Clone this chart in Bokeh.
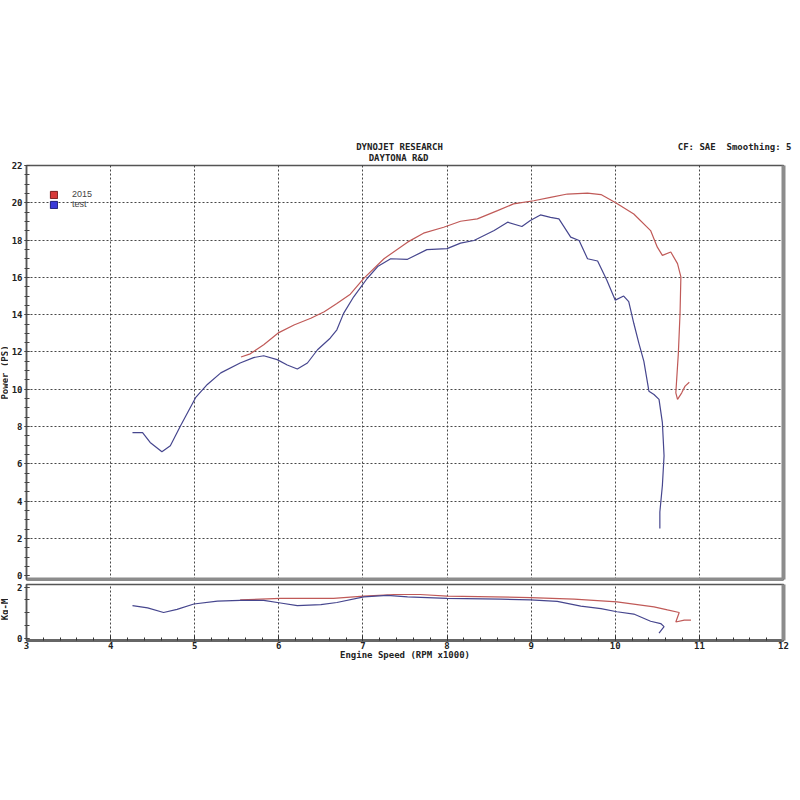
import math
from bokeh.plotting import figure
from bokeh.models import (Range1d, SingleIntervalTicker, FixedTicker, LinearAxis,
                          Legend, LegendItem)
from bokeh.layouts import column, row
from bokeh.core.properties import value
from bokeh.embed import file_html
from bokeh.resources import INLINE

# ---------------- data ----------------
series_names = ["2015", "test"]

rpm_2015 = [5.55, 5.66, 5.82, 6.00, 6.18, 6.38, 6.54, 6.69, 6.85, 7.01, 7.25, 7.53,
            7.72, 7.96, 8.16, 8.36, 8.60, 8.79, 9.03, 9.23, 9.43, 9.67, 9.83, 10.00,
            10.22, 10.42, 10.50, 10.56, 10.66, 10.74, 10.78, 10.77, 10.75, 10.72,
            10.74, 10.79, 10.83, 10.88]
ps_2015 = [11.73, 11.90, 12.39, 13.04, 13.45, 13.81, 14.16, 14.60, 15.10, 15.95, 17.00, 17.89,
           18.37, 18.69, 19.01, 19.14, 19.58, 19.94, 20.11, 20.29, 20.47, 20.52, 20.44, 20.02,
           19.40, 18.51, 17.62, 17.18, 17.36, 16.74, 16.03, 14.08, 11.94, 9.81,
           9.46, 9.81, 10.17, 10.38]

rpm_test = [4.26, 4.38, 4.47, 4.61, 4.71, 4.83, 5.01, 5.15, 5.31, 5.54, 5.70, 5.82,
            5.98, 6.10, 6.22, 6.34, 6.46, 6.61, 6.69, 6.77, 6.89, 7.05, 7.18, 7.33,
            7.53, 7.76, 8.00, 8.16, 8.32, 8.56, 8.72, 8.89, 8.99, 9.11, 9.23, 9.33,
            9.47, 9.57, 9.67, 9.79, 9.90, 10.00, 10.10, 10.16, 10.22, 10.28, 10.34,
            10.40, 10.46, 10.52, 10.56, 10.58, 10.56, 10.53, 10.53]
ps_test = [7.68, 7.68, 7.15, 6.65, 6.97, 8.03, 9.55, 10.26, 10.88, 11.41, 11.70, 11.80,
           11.59, 11.30, 11.09, 11.41, 12.12, 12.74, 13.19, 14.07, 14.96, 15.94, 16.60, 17.00,
           16.97, 17.49, 17.54, 17.84, 17.98, 18.51, 18.96, 18.73, 19.05, 19.35, 19.22, 19.14,
           18.16, 17.98, 17.00, 16.88, 15.85, 14.78, 15.00, 14.70, 13.54, 12.48, 11.50,
           9.90, 9.72, 9.46, 8.21, 6.44, 4.84, 3.42, 2.53]

tq_rpm_2015 = [5.54, 6.02, 6.65, 7.01, 7.37, 7.68, 8.00, 8.99, 9.51, 10.02, 10.46,
               10.62, 10.76, 10.72, 10.82, 10.90]
tq_2015 = [1.50, 1.56, 1.56, 1.65, 1.71, 1.71, 1.65, 1.59, 1.53, 1.42, 1.23,
           1.11, 1.01, 0.64, 0.71, 0.71]

tq_rpm_test = [4.26, 4.44, 4.63, 4.79, 4.99, 5.27, 5.54, 5.82, 6.02, 6.22, 6.50, 6.69,
               7.01, 7.29, 7.53, 8.00, 8.64, 8.99, 9.31, 9.59, 9.83, 10.02, 10.22,
               10.42, 10.54, 10.58, 10.52]
tq_test = [1.28, 1.19, 1.01, 1.13, 1.34, 1.45, 1.48, 1.48, 1.38, 1.28, 1.32, 1.40,
           1.62, 1.68, 1.62, 1.56, 1.53, 1.50, 1.44, 1.26, 1.16, 1.04, 0.95,
           0.67, 0.58, 0.46, 0.21]

title_lines = ["DYNOJET RESEARCH", "DAYTONA R&D"]
info_text = "CF: SAE\u00a0\u00a0Smoothing: 5"
power_label = "Power (PS)"
torque_label = "Kg-M"
x_label = "Engine Speed (RPM x1000)"

# ---------------- styling / layout constants ----------------
RED = "#c05a58"
BLUE = "#46468e"
MONO = "DejaVu Sans Mono"
TXT = "#222222"
GRID = "#333333"
PAGE_W = 800
STRIP_W = 8           # strip that holds the rotated axis titles
HEAD_H = 161          # header strip (titles)
MAIN_H = 420
TQ_H = 84
LEFT = 18
RIGHT = 17

x_range = Range1d(3, 12)


def bare(fig):
    fig.grid.visible = False
    fig.background_fill_color = "white"
    fig.border_fill_color = "white"
    fig.outline_line_color = None


def style_y_axis(ax):
    ax.major_label_text_font = MONO
    ax.major_label_text_font_size = "9px"
    ax.major_label_text_font_style = "bold"
    ax.major_label_text_color = TXT
    ax.major_label_standoff = 2
    ax.major_tick_in = 3
    ax.major_tick_out = 2
    ax.minor_tick_in = 3
    ax.minor_tick_out = 2
    ax.major_tick_line_color = "#444444"
    ax.minor_tick_line_color = "#444444"
    ax.axis_line_color = "#555555"
    ax.axis_line_width = 1.5


def shadow_axis():
    return LinearAxis(ticker=FixedTicker(ticks=[]), axis_line_width=4,
                      axis_line_color="#8c8c8c", major_tick_in=0, major_tick_out=0,
                      minor_tick_in=0, minor_tick_out=0, major_label_standoff=0)


# ---------------- header (titles) ----------------
hdr = figure(width=PAGE_W, height=HEAD_H, x_range=Range1d(0, PAGE_W), y_range=Range1d(0, HEAD_H),
             x_axis_location=None, y_axis_location=None, min_border=0,
             output_backend="svg", toolbar_location=None)
bare(hdr)
hdr.text(x=[399, 398], y=[15, 4], text=title_lines, text_align="center",
         text_baseline="middle", text_font=value(MONO), text_font_size="9px",
         text_font_style="bold", text_color=TXT)
hdr.text(x=[791], y=[15], text=[info_text], text_align="right",
         text_baseline="middle", text_font=value(MONO), text_font_size="9px",
         text_font_style="bold", text_color=TXT)

# ---------------- strip with the rotated axis titles ----------------
strip = figure(width=STRIP_W, height=MAIN_H + TQ_H, x_range=Range1d(0, STRIP_W),
               y_range=Range1d(0, MAIN_H + TQ_H), x_axis_location=None, y_axis_location=None,
               min_border=0, output_backend="svg", toolbar_location=None)
bare(strip)
strip.text(x=[4, 4], y=[MAIN_H + TQ_H - (372 - HEAD_H), MAIN_H + TQ_H - (609 - HEAD_H)],
           text=[power_label, torque_label], angle=math.pi / 2, text_align="center",
           text_baseline="middle", text_font=value(MONO), text_font_size="9px",
           text_font_style="bold", text_color=TXT)

# ---------------- main (power) panel ----------------
PW = PAGE_W - STRIP_W
p = figure(width=PW, height=MAIN_H, x_range=x_range, y_range=Range1d(-0.2, 22),
           output_backend="svg", toolbar_location=None,
           min_border_left=LEFT, min_border_right=RIGHT,
           min_border_top=4, min_border_bottom=2)
p.background_fill_color = "white"
p.border_fill_color = "white"
p.outline_line_color = "#555555"
p.outline_line_width = 1.5

p.xaxis.ticker = FixedTicker(ticks=[])
p.xaxis.major_label_standoff = 0
p.xaxis.major_tick_in = 0
p.xaxis.major_tick_out = 0
p.xaxis.minor_tick_in = 0
p.xaxis.minor_tick_out = 0
p.xaxis.axis_line_width = 4
p.xaxis.axis_line_color = "#8c8c8c"
p.xgrid.ticker = SingleIntervalTicker(interval=1)

p.yaxis.ticker = SingleIntervalTicker(interval=2, num_minor_ticks=4)
style_y_axis(p.yaxis[0])
p.add_layout(shadow_axis(), "right")
p.ygrid.bounds = (1, 22)

for g in (p.xgrid[0], p.ygrid[0]):
    g.grid_line_color = GRID
    g.grid_line_dash = "2 2"
    g.grid_line_width = 1
    g.grid_line_alpha = 0.9

p.line(rpm_2015, ps_2015, line_color=RED, line_width=1.2)
p.line(rpm_test, ps_test, line_color=BLUE, line_width=1.2)

# legend swatches (renderers with no visible data, used only for the legend)
nan = float("nan")
sw_red = p.quad(left=[nan], right=[nan], top=[nan], bottom=[nan], fill_color="#d83a3a",
                line_color="#7a1f1f")
sw_blue = p.quad(left=[nan], right=[nan], top=[nan], bottom=[nan], fill_color="#3a3ad8",
                 line_color="#1f1f7a")
legend = Legend(items=[LegendItem(label=series_names[0], renderers=[sw_red]),
                       LegendItem(label=series_names[1], renderers=[sw_blue])],
                location=(23, 370), padding=0, spacing=0,
                glyph_width=9, glyph_height=9, label_height=9, label_standoff=14,
                label_text_font="Liberation Sans", label_text_font_size="9px",
                label_text_color="#444444", border_line_color=None,
                background_fill_alpha=0)
p.add_layout(legend)

# ---------------- torque panel ----------------
q = figure(width=PW, height=TQ_H, x_range=x_range, y_range=Range1d(-0.08, 2.1),
           output_backend="svg", toolbar_location=None,
           min_border_left=LEFT, min_border_right=RIGHT,
           min_border_top=3, min_border_bottom=25)
q.background_fill_color = "white"
q.border_fill_color = "white"
q.outline_line_color = "#555555"
q.outline_line_width = 1.5

q.xaxis.ticker = SingleIntervalTicker(interval=1, num_minor_ticks=5)
xa = q.xaxis[0]
xa.axis_label = x_label
xa.axis_label_text_font = MONO
xa.axis_label_text_font_size = "9px"
xa.axis_label_text_font_style = "bold"
xa.axis_label_text_color = TXT
xa.axis_label_standoff = -2
xa.major_label_text_font = MONO
xa.major_label_text_font_size = "9px"
xa.major_label_text_font_style = "bold"
xa.major_label_text_color = TXT
xa.major_label_standoff = 1
xa.major_tick_in = 5
xa.major_tick_out = 0
xa.minor_tick_in = 3
xa.minor_tick_out = 0
xa.major_tick_line_color = "#333333"
xa.minor_tick_line_color = "#333333"
xa.axis_line_width = 3
xa.axis_line_color = "#666666"

q.yaxis.ticker = SingleIntervalTicker(interval=2, num_minor_ticks=4)
style_y_axis(q.yaxis[0])
q.add_layout(shadow_axis(), "right")

q.xgrid.grid_line_color = GRID
q.xgrid.grid_line_dash = "2 2"
q.xgrid.grid_line_alpha = 0.9
q.ygrid.visible = False

q.line(tq_rpm_2015, tq_2015, line_color=RED, line_width=1.2)
q.line(tq_rpm_test, tq_test, line_color=BLUE, line_width=1.2)

layout = column(hdr, row(strip, column(p, q)))
open("out.html", "w").write(file_html(layout, INLINE))
